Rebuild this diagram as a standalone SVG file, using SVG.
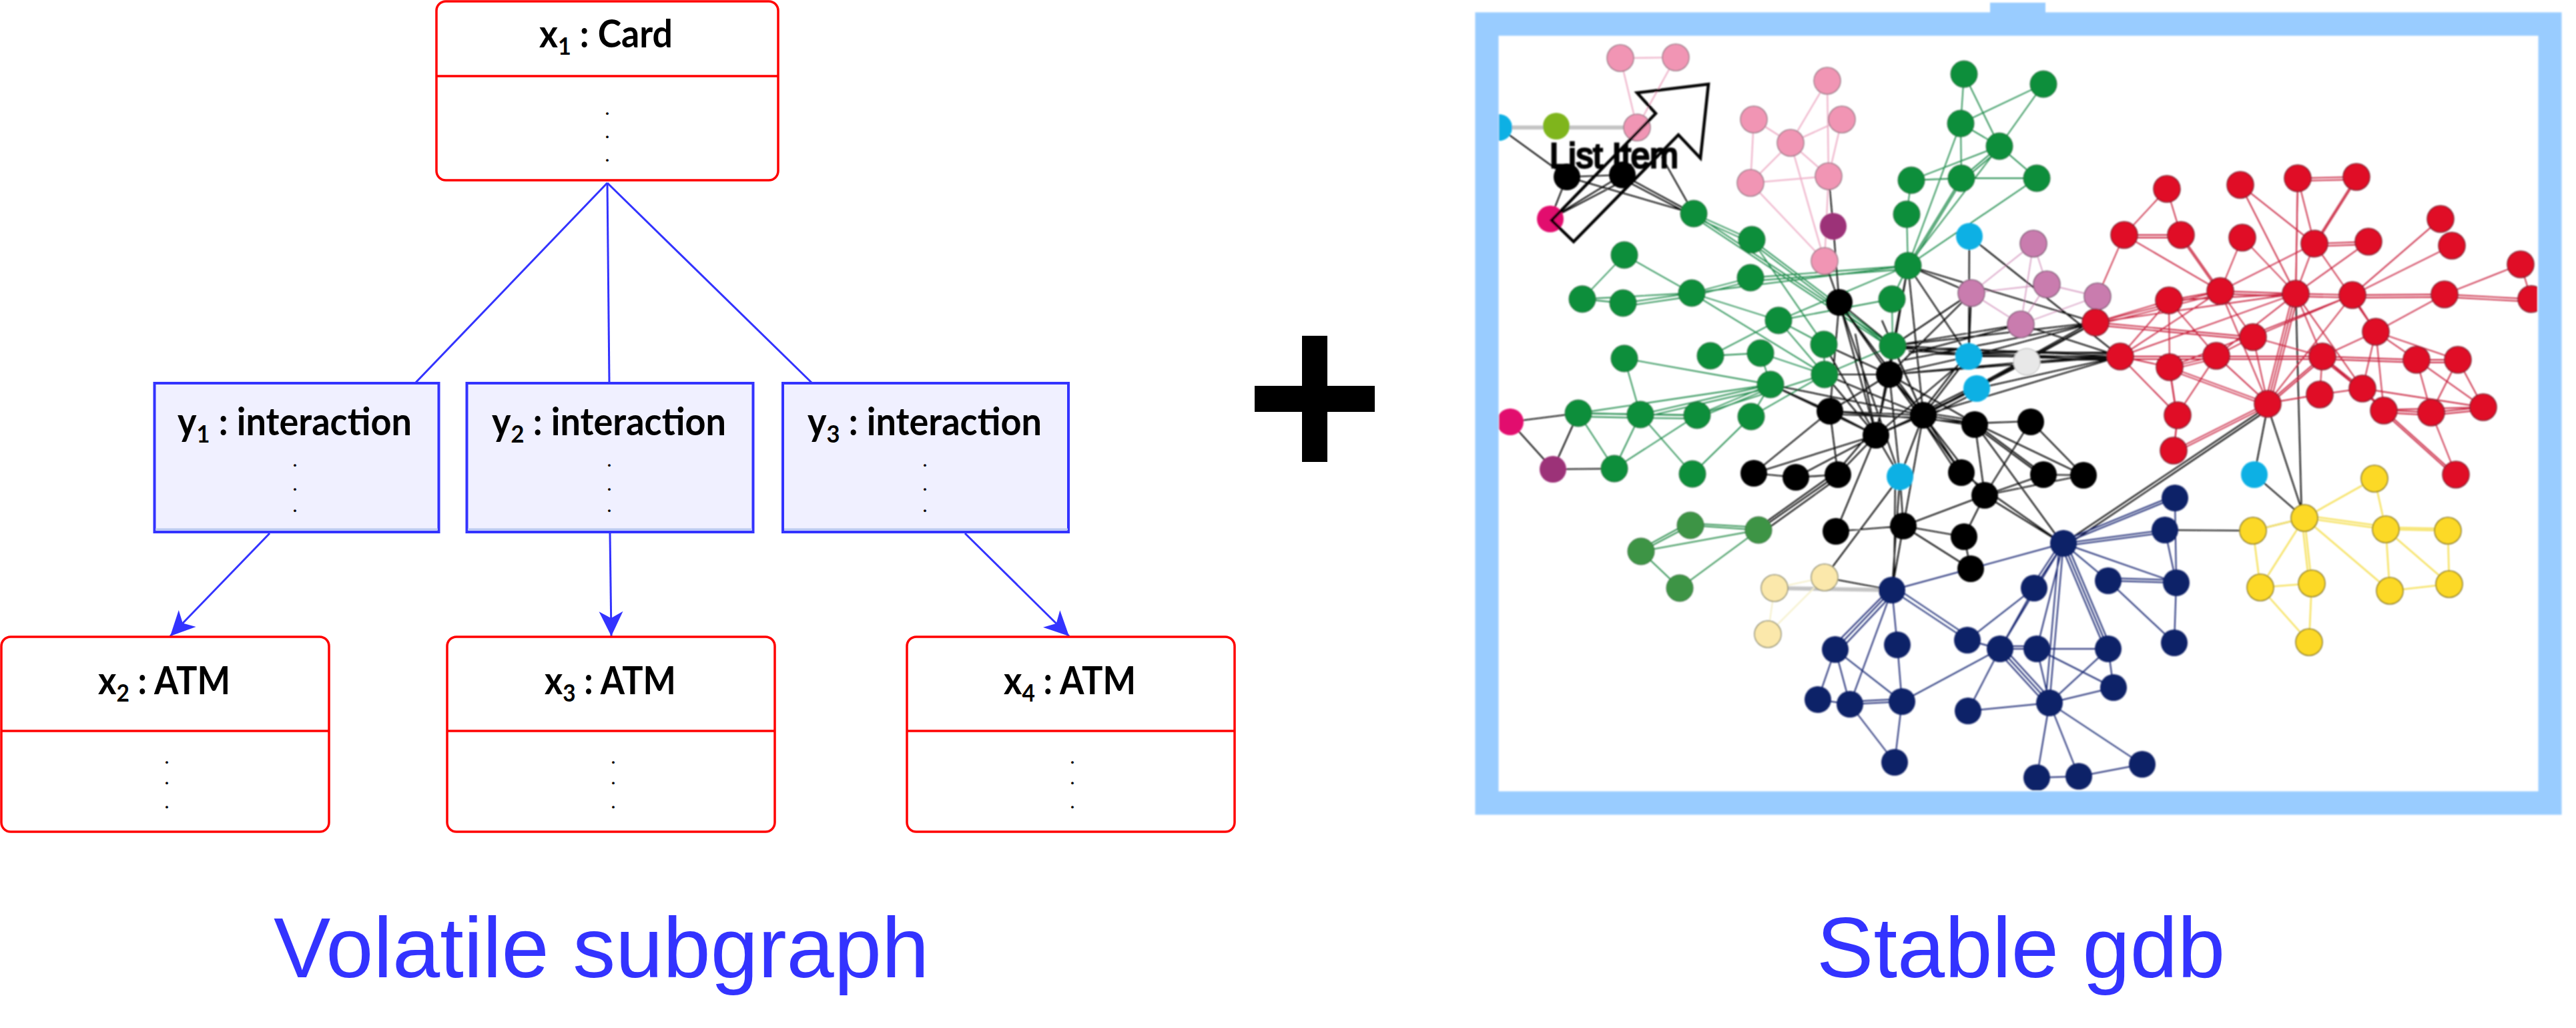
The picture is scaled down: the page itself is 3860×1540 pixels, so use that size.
<svg xmlns="http://www.w3.org/2000/svg" xmlns:xlink="http://www.w3.org/1999/xlink" width="3860" height="1540" viewBox="0 0 3860 1540">
<style>
.rb{fill:#fff;stroke:#f00;stroke-width:3.5}
.rd{stroke:#f00;stroke-width:3.5}
.yb{fill:#f0f0ff;stroke:#3333ff;stroke-width:4}
.yl{stroke:#b8c8f0;stroke-width:3}
.t{font-family:Lato,"Liberation Sans",sans-serif;font-size:58px;font-weight:700;fill:#000}
.s{font-size:37px}
.d{font-family:Lato,"Liberation Sans",sans-serif;font-size:25px;font-weight:700;fill:#000;text-anchor:middle}
.lab{font-family:"Liberation Sans",Arial,sans-serif;font-size:128px;fill:#3333ff}
.con{stroke:#3333ff;stroke-width:3;fill:none}
.e{fill:none}
.kk{stroke:#111;stroke-width:2.2}
.gg{stroke:#1f8a4a;stroke-width:1.8}
.dg{stroke:#2f9050;stroke-width:2}
.pp{stroke:#eeb0c8;stroke-width:2.2}
.mm{stroke:#d8a0c4;stroke-width:1.8}
.rr{stroke:#c8203c;stroke-width:1.8}
.nn{stroke:#1c2a74;stroke-width:2}
.yy{stroke:#f6e264;stroke-width:2.6}
.gy{stroke:#c4c4c4;stroke-width:6}
.cr{stroke:#f5efc8;stroke-width:2}
.pk circle{fill:#f195b4;stroke:#9a7a88;stroke-width:1.5}
.gr circle{fill:#0e8e3a;stroke:#2a6a40;stroke-width:1}
.dgn circle{fill:#3c9444;stroke:#3a6a40;stroke-width:1}
.bk circle{fill:#000}
.cy circle{fill:#0bb0e4}
.mv circle{fill:#c97bae;stroke:#806078;stroke-width:1.5}
.rd2 circle{fill:#e00f28;stroke:#802030;stroke-width:1.5}
.nv circle{fill:#112068}
.yw circle{fill:#fcd925;stroke:#807020;stroke-width:1.5}
.cm circle{fill:#fbe8ab;stroke:#8a8a70;stroke-width:1.5}
.mg circle{fill:#e2106e}
.pu circle{fill:#9c3078}
</style>
<defs>
<marker id="ah" markerUnits="userSpaceOnUse" markerWidth="40" markerHeight="40" viewBox="-38 -20 40 40" refX="0" refY="0" orient="auto"><path d="M0 0L-37 -18L-27 0L-37 18Z" fill="#3333ff"/></marker>
<filter id="soft" filterUnits="userSpaceOnUse" x="2190" y="0" width="1670" height="1240"><feGaussianBlur stdDeviation="1.1"/></filter>
<clipPath id="inner"><rect x="2246" y="53" width="1556" height="1131"/></clipPath>
</defs>
<rect width="3860" height="1540" fill="#fff"/>

<g id="connectors">
<path class="con" d="M910 274L623 573"/>
<path class="con" d="M910 274L913 573"/>
<path class="con" d="M910 274L1216 573"/>
<path class="con" d="M404 799L255 953" marker-end="url(#ah)"/>
<path class="con" d="M914 799L916 953" marker-end="url(#ah)"/>
<path class="con" d="M1446 799L1602 953" marker-end="url(#ah)"/>
</g>

<g id="x1"><rect class="rb" x="654" y="2" width="512" height="268" rx="14"/><path class="rd" d="M654 114H1166"/>
<text class="t" x="808" y="71" textLength="200" lengthAdjust="spacingAndGlyphs">x<tspan class="s" dy="11">1</tspan><tspan dy="-11"> : Card</tspan></text>
<text class="d" x="910" y="172">.</text><text class="d" x="910" y="207">.</text><text class="d" x="910" y="242">.</text></g>

<g id="y1"><rect class="yb" x="231.5" y="574" width="426" height="223"/><path class="yl" d="M233 793H656"/>
<text class="t" x="266" y="652" textLength="351" lengthAdjust="spacingAndGlyphs">y<tspan class="s" dy="11">1</tspan><tspan dy="-11"> : interaction</tspan></text>
<text class="d" x="442" y="699">.</text><text class="d" x="442" y="735">.</text><text class="d" x="442" y="767">.</text></g>
<g id="y2"><rect class="yb" x="699.5" y="574" width="429" height="223"/><path class="yl" d="M701 793H1127"/>
<text class="t" x="737" y="652" textLength="351" lengthAdjust="spacingAndGlyphs">y<tspan class="s" dy="11">2</tspan><tspan dy="-11"> : interaction</tspan></text>
<text class="d" x="913" y="699">.</text><text class="d" x="913" y="735">.</text><text class="d" x="913" y="767">.</text></g>
<g id="y3"><rect class="yb" x="1173" y="574" width="428" height="223"/><path class="yl" d="M1175 793H1600"/>
<text class="t" x="1210" y="652" textLength="351" lengthAdjust="spacingAndGlyphs">y<tspan class="s" dy="11">3</tspan><tspan dy="-11"> : interaction</tspan></text>
<text class="d" x="1386" y="699">.</text><text class="d" x="1386" y="735">.</text><text class="d" x="1386" y="767">.</text></g>

<g id="x2"><rect class="rb" x="2" y="954" width="491" height="292" rx="14"/><path class="rd" d="M2 1095H493"/>
<text class="t" x="147" y="1040" textLength="198" lengthAdjust="spacingAndGlyphs">x<tspan class="s" dy="11">2</tspan><tspan dy="-11"> : ATM</tspan></text>
<text class="d" x="250" y="1144">.</text><text class="d" x="250" y="1175">.</text><text class="d" x="250" y="1211">.</text></g>
<g id="x3"><rect class="rb" x="670" y="954" width="491" height="292" rx="14"/><path class="rd" d="M670 1095H1161"/>
<text class="t" x="816" y="1040" textLength="197" lengthAdjust="spacingAndGlyphs">x<tspan class="s" dy="11">3</tspan><tspan dy="-11"> : ATM</tspan></text>
<text class="d" x="919" y="1144">.</text><text class="d" x="919" y="1175">.</text><text class="d" x="919" y="1211">.</text></g>
<g id="x4"><rect class="rb" x="1359" y="954" width="491" height="292" rx="14"/><path class="rd" d="M1359 1095H1850"/>
<text class="t" x="1504" y="1040" textLength="198" lengthAdjust="spacingAndGlyphs">x<tspan class="s" dy="11">4</tspan><tspan dy="-11"> : ATM</tspan></text>
<text class="d" x="1607" y="1144">.</text><text class="d" x="1607" y="1175">.</text><text class="d" x="1607" y="1211">.</text></g>

<path id="plus" d="M1951 503H1989V578H2060V617H1989V692H1951V617H1880V578H1951Z" fill="#000"/>
<text class="lab" x="410" y="1464">Volatile subgraph</text>
<text class="lab" x="2722" y="1464">Stable gdb</text>

<g id="stable-gdb" filter="url(#soft)">
<path d="M2982 4H3065V24H2982Z" fill="#99ccff"/>
<g clip-path="url(#inner)">
<g id="edges">
<path class="e gy" d="M2246 191H2453M2659 881L2835 884"/>
<path class="e pp" d="M2428 87L2511 86M2428 87L2453 191M2511 86L2453 191M2738 121L2683 214M2738 121L2740 264M2628 179L2683 214M2628 179L2623 274M2760 179L2683 214M2760 179L2740 264M2683 214L2623 274M2683 214L2740 264M2683 214L2734 391M2623 274L2740 264M2623 274L2734 391M2740 264L2734 391"/>
<path class="e mm" d="M3047 365L2954 439M3047 365L3028 486M3047 365L3067 426M2954 439L3067 426M2954 439L3028 486M3067 426L3143 444M3028 486L3143 444M3067 426L3028 486"/>
<path class="e cr" d="M2734 865L2659 881M2734 865L2649 950M2659 881L2649 950"/>
<path id="gd" class="e gg" d="M2538 320L2625 359M2538 320L2836 518M2625 359L2836 518M2432 454L2535 439M2535 439L2623 416M2623 416L2859 398M2653 576L2458 621M2653 576L2543 622M2365 619L2458 621M2458 621L2543 622M2859 398L2939 267M2996 219L2939 267"/>
<use href="#gd" y="5"/>
<path class="e gg" d="M2943 111L2938 185M2943 111L2996 219M3062 126L2938 185M3062 126L2996 219M2938 185L2996 219M2938 185L2939 267M2996 219L3052 267M2996 219L2864 270M2939 267L3052 267M2864 270L2939 267M2864 270L2857 321M2857 321L2859 398M2859 398L2938 185M2859 398L2996 219M2859 398L3052 267M2625 359L2733 516M2434 382L2371 448M2434 382L2535 439M2371 448L2432 454M2371 448L2535 439M2535 439L2859 398M2535 439L2665 480M2535 439L2734 561M2665 480L2859 398M2665 480L2835 448M2665 480L2563 533M2665 480L2734 561M2665 480L2733 516M2638 529L2563 533M2638 529L2734 561M2638 529L2653 576M2733 516L2734 561M2836 518L2734 561M2836 518L2835 448M2835 448L2859 398M2434 537L2653 576M2434 537L2458 621M2653 576L2365 619M2653 576L2624 624M2365 619L2543 622M2543 622L2734 561M2624 624L2734 561M2365 619L2419 702M2458 621L2419 702M2458 621L2536 710M2543 622L2419 702M2624 624L2536 710"/>
<path class="e dg" d="M2533 787L2635 794M2533 784L2635 790M2459 826L2533 787M2459 822L2533 782M2459 826L2635 794M2459 826L2517 881M2517 881L2635 794"/>
<path class="e kk" d="M2246 191L2348 265M2348 265L2431 262M2348 265L2323 328M2323 328L2431 262M2323 328L2438 268M2348 265L2538 320M2431 262L2538 320M2431 268L2538 324M2490 235L2538 320M2263 632L2365 619M2263 632L2327 703M2365 619L2327 703M2327 703L2419 702M2747 339L2756 453M2740 264L2747 339M2734 391L2756 453M2756 453L2836 518M2756 453L2831 561M2756 453L2882 622M2756 453L2742 616M2756 453L2811 652M2859 398L2831 561M2859 398L2882 622M2859 398L2954 439M2859 398L2950 534M2859 398L2811 652M2859 398L3140 483M2951 354L2950 534M2951 354L3177 534M3028 486L3177 534M2954 439L2950 534M2954 439L2831 561M2954 439L2836 518M3028 486L2836 518M3028 486L2860 530M2836 518L3177 534M2836 518L3140 483M2836 522L3177 530M2860 526L3177 537M2836 518L2950 534M2831 561L2950 534M2831 561L3038 542M2831 561L3177 534M2831 561L2882 622M2831 561L2811 652M2831 561L2742 616M2831 561L2959 634M2831 561L2939 708M2742 616L2882 622M2742 616L2811 652M2811 652L2882 622M2882 622L2959 634M2882 618L2959 630M2882 626L2959 638M2959 634L3043 631M2882 622L2950 534M2879 618L2947 530M2882 622L2962 582M2879 618L2959 578M2885 626L2965 586M2882 622L3038 542M2811 652L2950 534M2811 652L2962 582M2882 622L3140 483M2882 622L3177 534M2950 534L3140 483M2950 534L3177 534M2950 528L3177 528M3038 542L3177 534M3038 537L3177 530M2962 582L3140 483M2962 578L3140 479M2962 582L3177 534M2850 540L3140 483M2900 530L3177 540M2836 518L2882 622M2733 516L2831 561M2734 561L2831 561M2734 561L2882 622M2733 516L2811 652M2653 576L2811 652M2653 576L2742 616M2653 576L2882 622M2756 453L2847 714M2734 561L2811 652M2742 616L2831 561M2735 620L2882 626M2742 616L2959 634M2780 500L2811 652M2820 480L2882 622M2811 652L2628 709M2811 652L2691 715M2811 652L2754 711M2805 645L2754 705M2742 616L2628 709M2742 616L2754 711M2628 709L2691 715M2691 715L2754 711M2754 711L2635 794M2750 708L2635 790M2757 714L2640 798M2811 652L2847 714M2811 652L2751 796M2847 714L2734 865M2882 622L2847 714M2882 622L2852 788M2847 714L2852 788M2847 714L2835 884M2840 720L2838 884M2831 561L2847 714M2882 622L2939 708M2878 626L2935 712M2882 622L2974 742M2751 796L2852 788M2852 788L2943 804M2852 788L2953 852M2943 804L2953 852M2852 788L2974 742M2852 788L2835 884M2734 865L2835 884M2959 634L2974 742M2959 634L3063 711M2959 638L3063 715M2959 634L3122 712M2959 634L3090 814M3043 631L2974 742M3043 631L3122 712M3063 711L3122 712M2974 742L3063 711M2974 742L3122 712M2974 742L3090 814M2974 742L2943 804M2939 708L3090 814M3092 814L3398 609M3098 816L3398 614M3244 794L3376 795M3376 795L3453 776M3398 609L3378 711M3398 609L3453 776M3378 711L3453 776M3440 440L3449 776"/>
<path class="e nn" d="M2835 884L2953 852M2835 884L2948 959M2840 880L2952 955M2835 884L2750 973M2830 884L2745 970M2838 888L2755 976M2835 884L2843 966M2835 884L2772 1055M2843 966L2850 1051M2750 973L2724 1048M2750 973L2772 1055M2750 973L2850 1051M2724 1048L2772 1055M2772 1055L2850 1051M2772 1051L2850 1047M2772 1055L2839 1142M2850 1051L2839 1142M2850 1051L2997 972M2948 959L3048 881M2948 959L2997 972M2997 972L3052 972M2997 968L3052 968M2997 972L3048 881M2997 972L3092 814M2997 972L2949 1065M2997 972L3071 1053M2993 975L3067 1056M3001 969L3075 1050M2949 1065L3071 1053M3052 972L3071 1053M3052 972L3159 972M3052 972L3167 1030M3052 972L3092 814M3048 881L3092 814M3045 878L3089 811M3092 814L2953 852M3092 814L3071 1053M3086 814L3065 1053M3092 814L3159 972M3096 812L3163 970M3088 816L3155 974M3092 814L3159 870M3092 814L3261 873M3092 814L3244 794M3092 818L3244 798M3092 814L3259 746M3092 810L3259 742M3159 870L3261 873M3159 866L3261 869M3159 870L3258 963M3261 873L3258 963M3244 794L3261 873M3259 746L3261 873M3159 972L3071 1053M3159 972L3167 1030M3167 1030L3071 1053M3071 1053L3210 1145M3071 1053L3115 1163M3071 1053L3052 1165M3052 1165L3115 1163M3115 1163L3210 1145"/>
<path class="e yy" d="M3558 717L3453 776M3558 717L3575 793M3453 776L3376 795M3453 776L3575 793M3453 772L3575 789M3453 776L3387 880M3453 776L3464 874M3449 776L3460 874M3453 776L3581 885M3575 793L3668 795M3575 790L3668 792M3575 793L3581 885M3575 793L3670 875M3668 795L3670 875M3376 795L3387 880M3387 880L3464 874M3387 880L3460 962M3464 874L3460 962M3581 885L3670 875"/>
<path id="rd" class="e rr" d="M3183 352L3268 352M3268 352L3327 436M3443 267L3531 265M3443 267L3440 440M3531 265L3468 365M3468 365L3549 362M3525 442L3663 441M3327 436L3440 440M3440 440L3525 442M3663 441L3793 448M3140 483L3327 436M3140 483L3376 505M3177 534L3480 534M3321 533L3251 550M3251 550L3262 622M3251 550L3398 604M3480 534L3621 539M3480 534L3398 604M3480 534L3540 582M3621 539L3683 539M3572 614L3643 618M3643 618L3721 610M3572 614L3680 711M3263 622L3257 675M3398 604L3257 675"/>
<use href="#rd" y="4"/>
<path class="e rr" d="M3247 283L3183 352M3247 283L3268 352M3183 352L3327 436M3183 352L3143 444M3360 356L3327 436M3357 277L3440 440M3357 277L3468 365M3360 356L3440 440M3443 267L3468 365M3468 365L3327 436M3468 365L3440 440M3468 365L3560 497M3549 362L3440 440M3657 328L3525 442M3674 368L3525 442M3777 396L3663 441M3777 396L3793 448M3663 441L3560 497M3140 483L3440 440M3140 483L3250 450M3177 534L3250 450M3177 534L3327 436M3177 534L3440 440M3177 534L3251 550M3177 534L3263 622M3250 450L3251 550M3250 450L3327 436M3250 450L3321 533M3250 450L3440 440M3327 436L3398 604M3327 436L3376 505M3440 440L3398 604M3436 440L3394 604M3444 440L3402 604M3440 440L3321 533M3440 440L3480 534M3440 440L3540 582M3525 442L3398 604M3525 442L3560 497M3525 442L3376 505M3525 442L3251 550M3560 497L3480 534M3560 497L3621 539M3560 497L3683 539M3560 497L3540 582M3560 497L3572 614M3376 505L3398 604M3376 505L3321 533M3376 505L3480 534M3321 533L3262 622M3321 533L3398 604M3480 534L3476 591M3480 534L3572 614M3621 539L3643 618M3683 539L3721 610M3683 539L3643 618M3621 539L3721 610M3398 604L3476 591M3476 591L3540 582M3540 582L3572 614M3572 614L3721 610M3540 582L3721 610M3643 618L3680 711"/>
</g>
<g id="nodes">
<g class="pk"><circle cx="2428" cy="87" r="20"/><circle cx="2511" cy="86" r="20"/><circle cx="2453" cy="191" r="20"/><circle cx="2738" cy="121" r="20"/><circle cx="2628" cy="179" r="20"/><circle cx="2760" cy="179" r="20"/><circle cx="2683" cy="214" r="20"/><circle cx="2623" cy="274" r="20"/><circle cx="2740" cy="264" r="20"/><circle cx="2734" cy="391" r="20"/></g>
<g class="gr"><circle cx="2943" cy="111" r="20"/><circle cx="3062" cy="126" r="20"/><circle cx="2938" cy="185" r="20"/><circle cx="2996" cy="219" r="20"/><circle cx="2864" cy="270" r="20"/><circle cx="2939" cy="267" r="20"/><circle cx="3052" cy="267" r="20"/><circle cx="2857" cy="321" r="20"/><circle cx="2538" cy="320" r="20"/><circle cx="2625" cy="359" r="20"/><circle cx="2434" cy="382" r="20"/><circle cx="2859" cy="398" r="20"/><circle cx="2623" cy="416" r="20"/><circle cx="2371" cy="448" r="20"/><circle cx="2432" cy="454" r="20"/><circle cx="2535" cy="439" r="20"/><circle cx="2835" cy="448" r="20"/><circle cx="2665" cy="480" r="20"/><circle cx="2733" cy="516" r="20"/><circle cx="2836" cy="518" r="20"/><circle cx="2563" cy="533" r="20"/><circle cx="2638" cy="529" r="20"/><circle cx="2434" cy="537" r="20"/><circle cx="2734" cy="561" r="20"/><circle cx="2653" cy="576" r="20"/><circle cx="2365" cy="619" r="20"/><circle cx="2458" cy="621" r="20"/><circle cx="2543" cy="622" r="20"/><circle cx="2624" cy="624" r="20"/><circle cx="2419" cy="702" r="20"/><circle cx="2536" cy="710" r="20"/></g>
<g class="dgn"><circle cx="2533" cy="787" r="20"/><circle cx="2635" cy="794" r="20"/><circle cx="2459" cy="826" r="20"/><circle cx="2517" cy="881" r="20"/></g>
<g class="bk"><circle cx="2348" cy="265" r="20"/><circle cx="2431" cy="262" r="20"/><circle cx="2756" cy="453" r="20"/><circle cx="2831" cy="561" r="20"/><circle cx="2742" cy="616" r="20"/><circle cx="2882" cy="622" r="20"/><circle cx="2959" cy="636" r="20"/><circle cx="3043" cy="632" r="20"/><circle cx="2628" cy="709" r="20"/><circle cx="2691" cy="715" r="20"/><circle cx="2754" cy="711" r="20"/><circle cx="2811" cy="652" r="20"/><circle cx="2939" cy="708" r="20"/><circle cx="2974" cy="742" r="20"/><circle cx="3062" cy="711" r="20"/><circle cx="3122" cy="712" r="20"/><circle cx="2751" cy="796" r="20"/><circle cx="2852" cy="788" r="20"/><circle cx="2943" cy="804" r="20"/><circle cx="2953" cy="852" r="20"/></g>
<g class="cy"><circle cx="2246" cy="191" r="20"/><circle cx="2951" cy="354" r="20"/><circle cx="2950" cy="534" r="20"/><circle cx="2962" cy="582" r="20"/><circle cx="2847" cy="714" r="20"/><circle cx="3378" cy="711" r="20"/></g>
<g class="mv"><circle cx="3047" cy="365" r="20"/><circle cx="3067" cy="426" r="20"/><circle cx="2954" cy="439" r="20"/><circle cx="3028" cy="486" r="20"/><circle cx="3143" cy="444" r="20"/></g>
<circle cx="2332" cy="189" r="20" fill="#7fb51e"/>
<circle cx="3037" cy="542" r="20" fill="#e8e8e8" stroke="#aaa" stroke-width="1"/>
<g class="mg"><circle cx="2323" cy="328" r="20"/><circle cx="2263" cy="632" r="20"/></g>
<g class="pu"><circle cx="2747" cy="339" r="20"/><circle cx="2327" cy="703" r="20"/></g>
<g class="cm"><circle cx="2734" cy="865" r="20"/><circle cx="2659" cy="881" r="20"/><circle cx="2649" cy="950" r="20"/></g>
<g class="nv"><circle cx="2835" cy="884" r="20"/><circle cx="2948" cy="959" r="20"/><circle cx="2997" cy="972" r="20"/><circle cx="3052" cy="972" r="20"/><circle cx="3048" cy="881" r="20"/><circle cx="3092" cy="814" r="20"/><circle cx="2750" cy="973" r="20"/><circle cx="2843" cy="966" r="20"/><circle cx="2724" cy="1048" r="20"/><circle cx="2772" cy="1055" r="20"/><circle cx="2850" cy="1051" r="20"/><circle cx="2949" cy="1065" r="20"/><circle cx="3071" cy="1053" r="20"/><circle cx="2839" cy="1142" r="20"/><circle cx="3052" cy="1165" r="20"/><circle cx="3259" cy="746" r="20"/><circle cx="3244" cy="794" r="20"/><circle cx="3159" cy="870" r="20"/><circle cx="3261" cy="873" r="20"/><circle cx="3258" cy="963" r="20"/><circle cx="3159" cy="972" r="20"/><circle cx="3167" cy="1030" r="20"/><circle cx="3210" cy="1145" r="20"/><circle cx="3115" cy="1163" r="20"/></g>
<g class="yw"><circle cx="3558" cy="717" r="20"/><circle cx="3453" cy="776" r="20"/><circle cx="3376" cy="795" r="20"/><circle cx="3575" cy="793" r="20"/><circle cx="3668" cy="795" r="20"/><circle cx="3387" cy="880" r="20"/><circle cx="3464" cy="874" r="20"/><circle cx="3581" cy="885" r="20"/><circle cx="3670" cy="875" r="20"/><circle cx="3460" cy="962" r="20"/></g>
<g class="rd2"><circle cx="3257" cy="675" r="20"/><circle cx="3263" cy="622" r="20"/><circle cx="3398" cy="605" r="20"/><circle cx="3572" cy="615" r="20"/><circle cx="3643" cy="618" r="20"/><circle cx="3721" cy="610" r="20"/><circle cx="3680" cy="711" r="20"/><circle cx="3247" cy="283" r="20"/><circle cx="3357" cy="277" r="20"/><circle cx="3443" cy="267" r="20"/><circle cx="3531" cy="265" r="20"/><circle cx="3183" cy="352" r="20"/><circle cx="3268" cy="352" r="20"/><circle cx="3360" cy="356" r="20"/><circle cx="3468" cy="365" r="20"/><circle cx="3549" cy="362" r="20"/><circle cx="3657" cy="328" r="20"/><circle cx="3674" cy="368" r="20"/><circle cx="3777" cy="396" r="20"/><circle cx="3793" cy="448" r="20"/><circle cx="3663" cy="441" r="20"/><circle cx="3327" cy="436" r="20"/><circle cx="3440" cy="440" r="20"/><circle cx="3525" cy="442" r="20"/><circle cx="3250" cy="450" r="20"/><circle cx="3140" cy="483" r="20"/><circle cx="3560" cy="497" r="20"/><circle cx="3376" cy="505" r="20"/><circle cx="3177" cy="534" r="20"/><circle cx="3321" cy="533" r="20"/><circle cx="3480" cy="534" r="20"/><circle cx="3251" cy="550" r="20"/><circle cx="3621" cy="539" r="20"/><circle cx="3683" cy="539" r="20"/><circle cx="3540" cy="582" r="20"/><circle cx="3476" cy="591" r="20"/></g>
</g>
<path id="list-arrow" d="M2325 330L2481 170L2453 139L2560 126L2548 237L2515 202L2358 362Z" fill="none" stroke="#000" stroke-width="4.5"/>
<text x="2322" y="251" font-family="'Liberation Sans',Arial,sans-serif" font-size="51" fill="#000" stroke="#000" stroke-width="3">List Item</text>
</g>
<rect x="2228" y="36" width="1593" height="1167" fill="none" stroke="#99ccff" stroke-width="35"/>
</g>
</svg>
